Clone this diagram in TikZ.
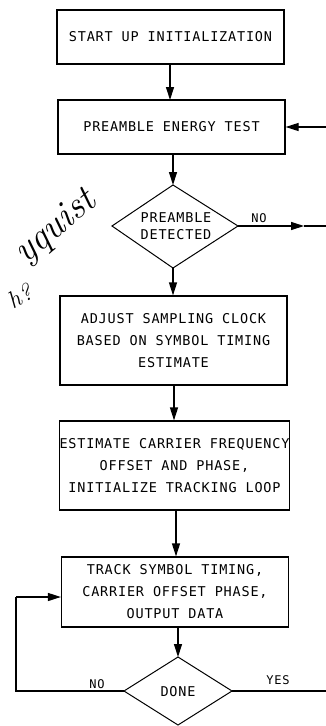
\documentclass[tikz,border=0pt]{standalone}
\usepackage{fontspec}
\newfontfamily\plotfont[LetterSpace=6]{DejaVu Sans Mono}
\usetikzlibrary{arrows.meta,shapes.geometric}
\begin{document}
\begin{tikzpicture}[x=1pt,y=-1pt,
  every node/.style={font=\plotfont\fontsize{13.5}{22}\selectfont},
  procbox/.style={draw,line width=1.2pt,minimum width=227pt,align=center,inner sep=0pt},
  flow/.style={line width=1.2pt,-{Triangle[length=13pt,width=8pt]}},
  plain/.style={line width=1.2pt},
  lbl/.style={font=\plotfont\fontsize{12}{14}\selectfont},
  hand/.style={font=\itshape\fontsize{38}{38}\selectfont},
  handq/.style={font=\itshape\fontsize{24}{24}\selectfont}
]
\useasboundingbox (0,0) rectangle (326,726);
% boxes
\node[procbox,minimum height=54pt] (b1) at (170.5,37) {START UP INITIALIZATION};
\node[procbox,minimum height=54pt] (b2) at (171.5,127) {PREAMBLE ENERGY TEST};
\draw[line width=1pt] (112,226) -- (173,185) -- (238,226) -- (173,268) -- cycle;
\coordinate (d1t) at (173,185);
\coordinate (d1b) at (173,268);
\coordinate (d1r) at (238,226);
\node[align=center] (d1) at (176,226) {PREAMBLE\\[-5pt]DETECTED};
\node[procbox,minimum height=89pt] (b3) at (173.5,340.5) {ADJUST SAMPLING CLOCK\\BASED ON SYMBOL TIMING\\ESTIMATE};
\node[procbox,minimum height=89pt] (b4) at (174.5,465.5) {ESTIMATE CARRIER FREQUENCY\\OFFSET AND PHASE,\\INITIALIZE TRACKING LOOP};
\node[procbox,minimum height=70pt] (b5) at (175,592) {TRACK SYMBOL TIMING,\\CARRIER OFFSET PHASE,\\OUTPUT DATA};
\draw[line width=1pt] (124,691) -- (178,657) -- (232,691) -- (178,725) -- cycle;
\coordinate (d2t) at (178,657);
\coordinate (d2l) at (124,691);
\coordinate (d2r) at (232,691);
\node (d2) at (178,692) {DONE};
% connectors
\draw[flow] (b1.south -| 170,0) -- (170,100);
\draw[flow] (b2.south -| d1t) -- (d1t);
\draw[flow] (d1b) -- (b3.north -| d1b);
\draw[flow] (b3.south -| 174,0) -- (b4.north -| 174,0);
\draw[flow] (b4.south -| 176,0) -- (b5.north -| 176,0);
\draw[flow] (b5.south -| d2t) -- (d2t);
% preamble energy test return
\coordinate (rin) at (326,127);
\draw[flow] (rin) -- (b2.east);
% NO from preamble detected
\coordinate (noarr) at (304,226);
\coordinate (noend) at (326,226);
\draw[flow] (d1r) -- (noarr);
\draw[plain] (noarr) -- (noend);
\node[lbl] at (259,218) {NO};
% DONE NO loop
\coordinate (lp1) at (16,691);
\coordinate (lp2) at (16,597);
\draw[plain] (d2l) -- (lp1) -- (lp2);
\draw[flow] (lp2) -- (b5.west |- lp2);
\node[lbl] at (97,684) {NO};
% DONE YES
\coordinate (yesend) at (326,691);
\draw[plain] (d2r) -- (yesend);
\node[lbl] at (278,680) {YES};
% handwritten annotation
\node[hand,rotate=40] (hw1) at (56,228) {yquist};
\node[handq,rotate=30] (hw2) at (20,296) {h?};
\end{tikzpicture}
\end{document}
